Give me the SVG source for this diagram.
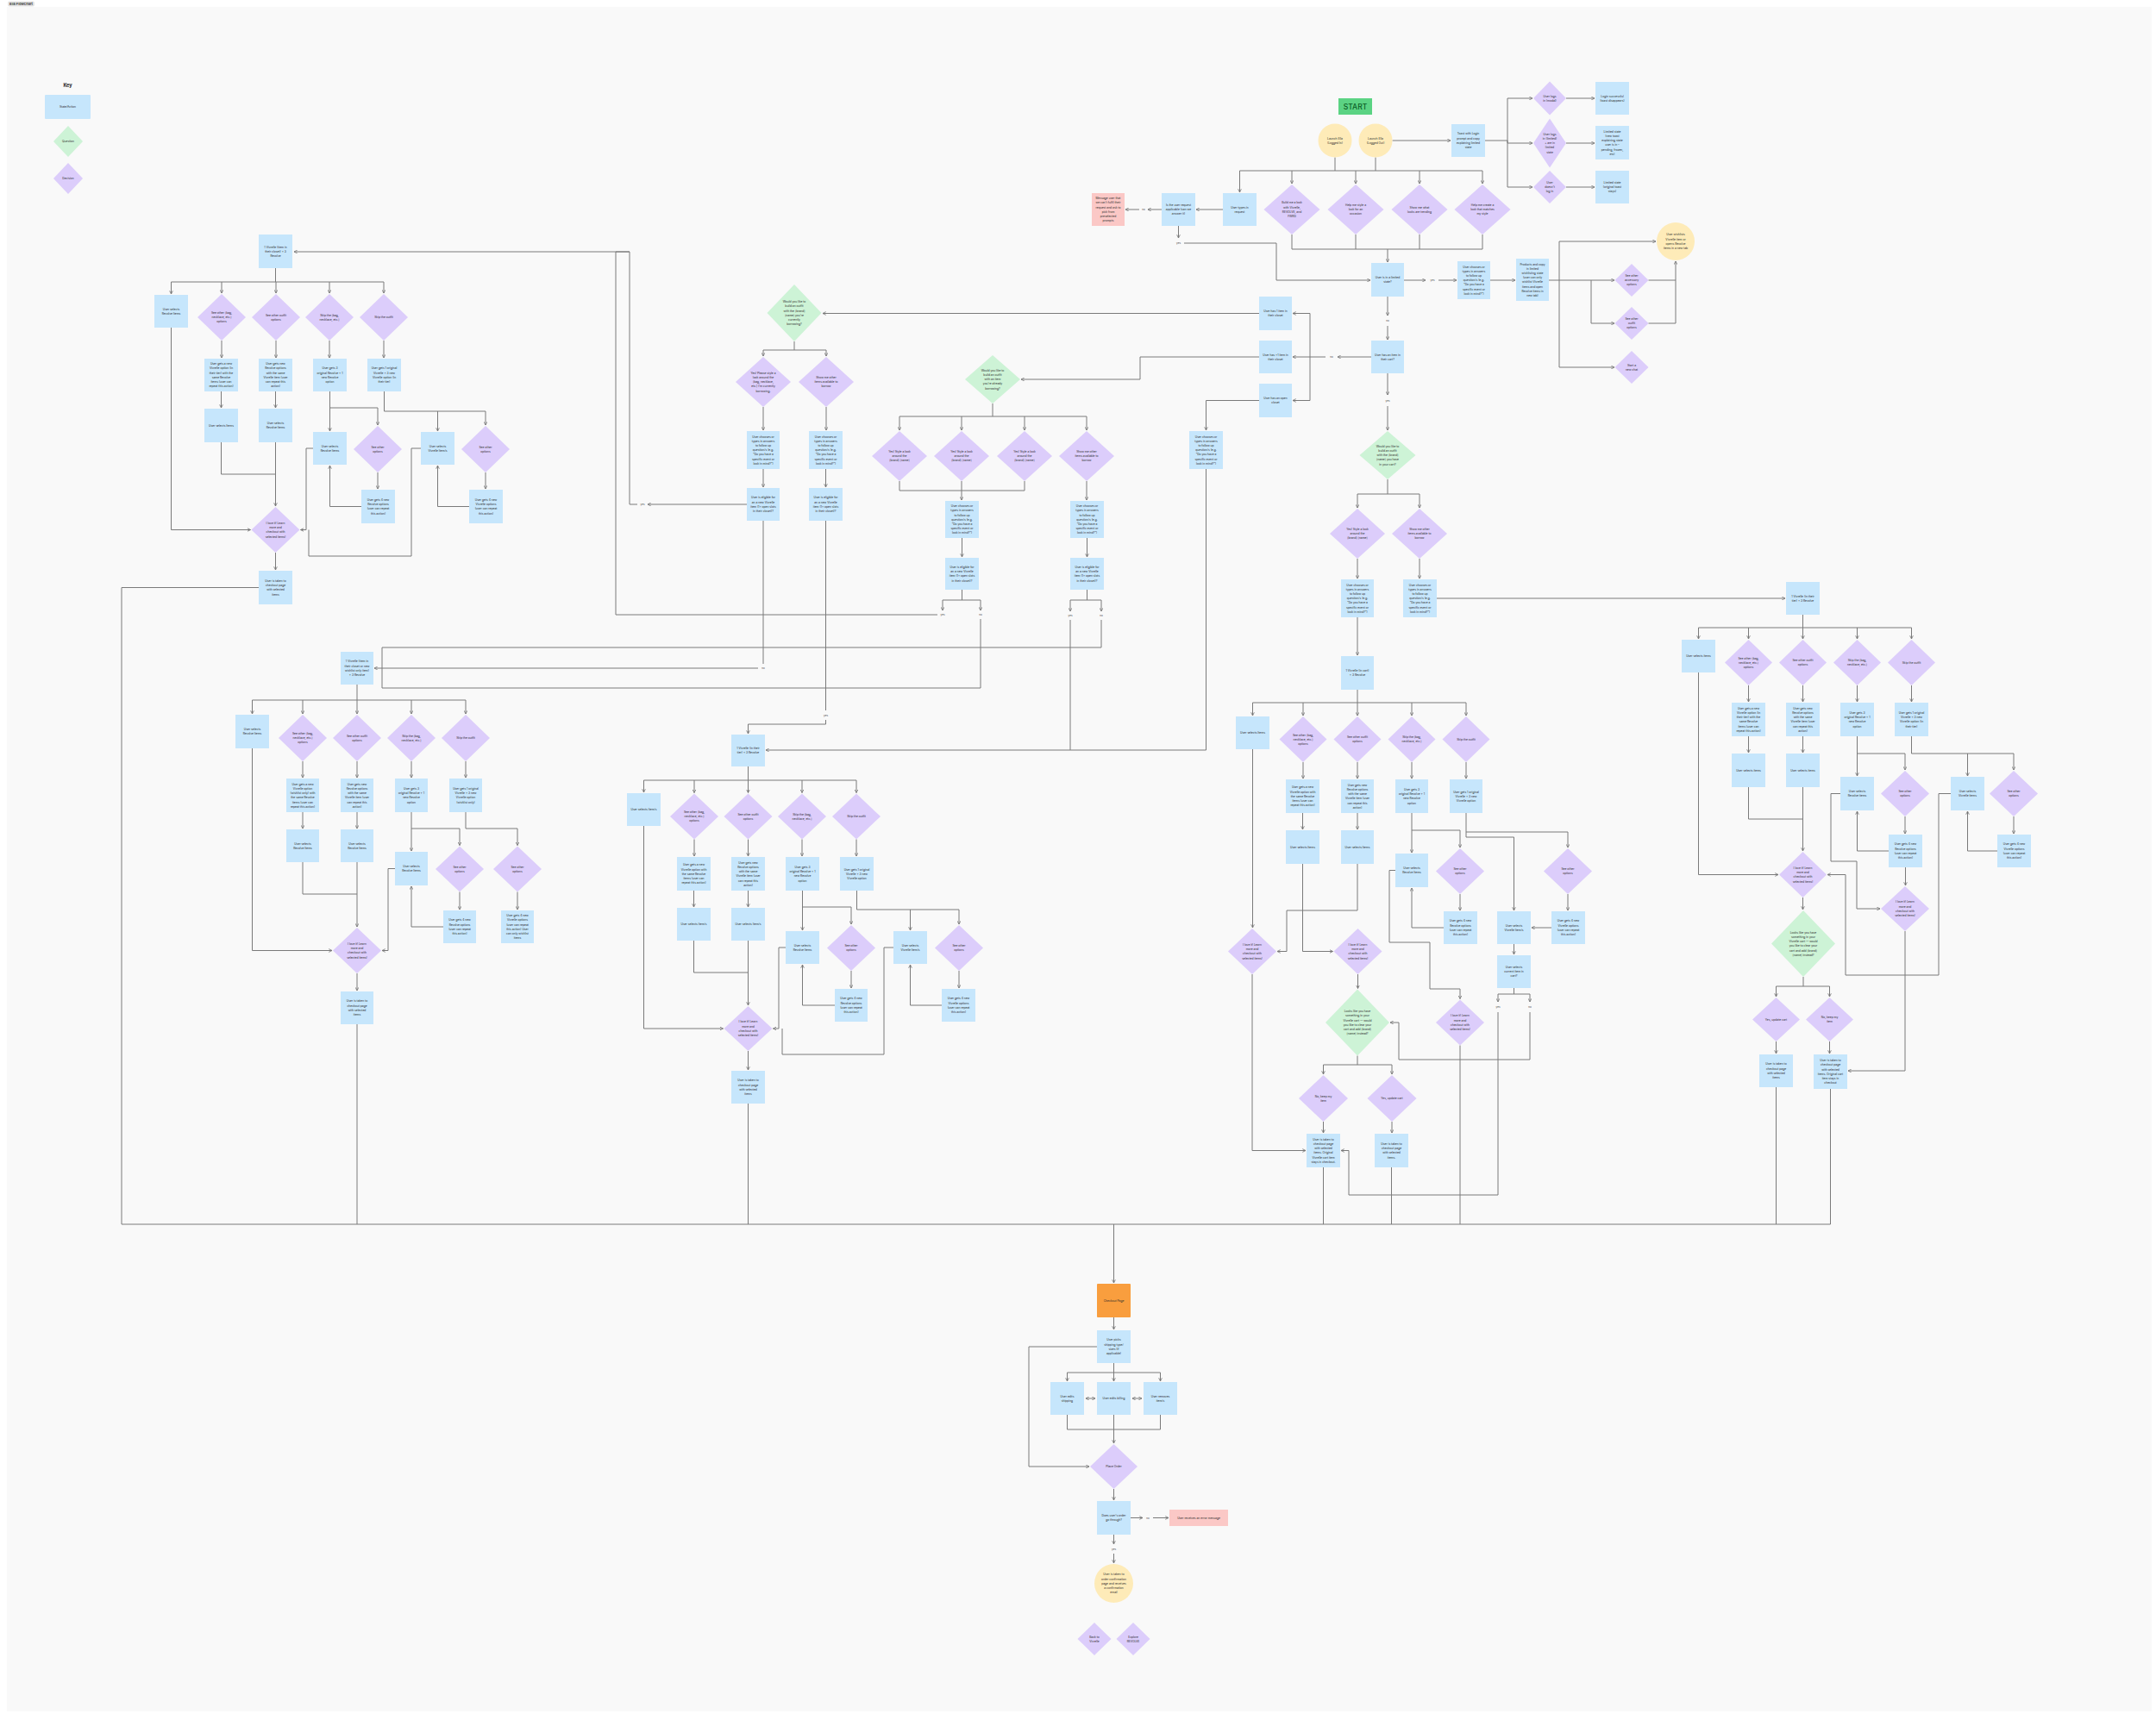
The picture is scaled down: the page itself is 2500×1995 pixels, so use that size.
<svg xmlns="http://www.w3.org/2000/svg" width="2500" height="1995" viewBox="0 0 2500 1995">
<defs>
<marker id="ah" viewBox="0 0 8 8" refX="7" refY="4" markerWidth="4.5" markerHeight="4.5" markerUnits="userSpaceOnUse" orient="auto-start-reverse"><path d="M1,1 L7,4 L1,7" fill="none" stroke="#7a7a7a" stroke-width="1.5" stroke-linecap="round" stroke-linejoin="round"/></marker>
<style>
.b{fill:#c6e6fc}.p{fill:#dccdfb}.g{fill:#cdf3d6}.y{fill:#feebb8}.r{fill:#fbc8c6}.o{fill:#f99e3e}
.t{font-family:Inter,'Liberation Sans',sans-serif;font-size:3.3px;fill:#2b2b2b;text-anchor:middle}
.lb{font-family:Inter,'Liberation Sans',sans-serif;font-size:3px;fill:#444;text-anchor:middle}
#conn path{fill:none;stroke:#7a7a7a;stroke-width:1;stroke-linejoin:round}
#conn path.a{marker-end:url(#ah)}
#conn path.d{marker-start:url(#ah);marker-end:url(#ah)}
</style>
</defs>
<rect x="0" y="0" width="2500" height="1995" fill="#ffffff"/>
<rect x="8" y="8" width="2487" height="1977" fill="#f9f9f9"/>
<g id="title"><rect x="9" y="1.5" width="31" height="6" rx="2" fill="#e3e3e3"/><text x="24.5" y="6" font-family="Inter,'Liberation Sans',sans-serif" font-size="4" font-weight="600" fill="#333" text-anchor="middle">Ella Flowchart</text></g>
<g id="key">
<text x="78.5" y="101" font-family="Inter,'Liberation Sans',sans-serif" font-size="5.5" font-weight="700" fill="#222" text-anchor="middle">Key</text>
<rect class="b" x="52" y="110" width="53" height="28" rx="1"/><text class="t" x="78.5" y="125.2">State/Action</text>
<polygon class="g" points="79,146 96,164 79,182 62,164"/><text class="t" x="79" y="165.2">Question</text>
<polygon class="p" points="79,189 96,207 79,225 62,207"/><text class="t" x="79" y="208.2">Decision</text>
</g>

<g id="conn">
<path class="a" d="M1614.5,163 H1682"/>
<path d="M1722,163 H1748"/>
<path class="a" d="M1748,163 V114 H1777"/>
<path class="a" d="M1748,163 V166 H1777"/>
<path class="a" d="M1748,163 V217 H1777"/>
<path class="a" d="M1816,114 H1849"/>
<path class="a" d="M1816,166 H1849"/>
<path class="a" d="M1816,217 H1849"/>
<path d="M1548,182.5 V198"/>
<path d="M1595,182.5 V198"/>
<path d="M1437.5,198 H1719"/>
<path class="a" d="M1437.5,198 V223"/>
<path class="a" d="M1498,198 V213"/>
<path class="a" d="M1572,198 V213"/>
<path class="a" d="M1646,198 V213"/>
<path class="a" d="M1719,198 V213"/>
<path class="a" d="M1418,243 H1387"/>
<path class="a" d="M1347,243 H1331"/>
<path class="a" d="M1321,243 H1305"/>
<path class="a" d="M1366.5,262 V276"/>
<path class="a" d="M1373,282 H1480 V325 H1589"/>
<path d="M1498,272 V289 H1719 V272"/>
<path d="M1572,272 V289"/>
<path d="M1646,272 V289"/>
<path class="a" d="M1609,289 V304"/>
<path class="a" d="M1628,325 H1653"/>
<path class="a" d="M1668,325 H1689"/>
<path class="a" d="M1728,325 H1757"/>
<path d="M1796,325 H1808"/>
<path class="a" d="M1808,325 V280 H1920"/>
<path class="a" d="M1808,325 H1872"/>
<path class="a" d="M1808,325 V426 H1872"/>
<path class="a" d="M1845,325 V375 H1872"/>
<path class="a" d="M1911.5,325 H1943 V303"/>
<path d="M1911.5,375 H1943 V325"/>
<path class="a" d="M1609,344 V366"/>
<path class="a" d="M1609,378 V394"/>
<path class="a" d="M1590,414 H1551"/>
<path d="M1537,414 H1519"/>
<path d="M1519,363.5 V464.5"/>
<path class="a" d="M1519,363.5 H1499"/>
<path class="a" d="M1519,414 H1499"/>
<path class="a" d="M1519,464.5 H1499"/>
<path class="a" d="M1609,433 V458"/>
<path class="a" d="M1609,471 V499"/>
<path d="M1609,556 V573"/>
<path d="M1574,573 H1646"/>
<path class="a" d="M1574,573 V589"/>
<path class="a" d="M1646,573 V589"/>
<path class="a" d="M1574,648 V671"/>
<path class="a" d="M1646,648 V671"/>
<path class="a" d="M1574,716 V760"/>
<path class="a" d="M1666,694 H2070"/>
<path class="a" d="M1460,363.5 H954"/>
<path class="a" d="M1460,414 H1322 V440 H1184"/>
<path class="a" d="M1460,464.5 H1398.5 V499"/>
<path class="a" d="M1398.5,544 V870 H888"/>
<path d="M921,396 V406"/>
<path d="M885,406 H958"/>
<path class="a" d="M885,406 V413"/>
<path class="a" d="M958,406 V413"/>
<path class="a" d="M885,472 V499"/>
<path class="a" d="M958,472 V499"/>
<path class="a" d="M885,544 V565"/>
<path class="a" d="M957.5,544 V565"/>
<path class="a" d="M866,585 H751"/>
<path class="a" d="M739,585 H730 V292 H341"/>
<path d="M885,604 V770"/>
<path class="a" d="M879,775 H434"/>
<path d="M957.5,604 V824"/>
<path class="a" d="M957.5,835 V840 H867.5 V851"/>
<path d="M1151,468 V483"/>
<path d="M1043,483 H1260"/>
<path class="a" d="M1043,483 V499"/>
<path class="a" d="M1115,483 V499"/>
<path class="a" d="M1188,483 V499"/>
<path class="a" d="M1260,483 V499"/>
<path d="M1043,558 V569 H1188 V558"/>
<path d="M1115,558 V569"/>
<path class="a" d="M1115,569 V580"/>
<path class="a" d="M1260,558 V580"/>
<path class="a" d="M1115.5,624 V646"/>
<path class="a" d="M1260.5,624 V646"/>
<path d="M1115.5,684 V696"/>
<path d="M1093,696 H1137"/>
<path class="a" d="M1093,696 V708"/>
<path class="a" d="M1137,696 V708"/>
<path d="M1260.5,684 V696"/>
<path d="M1241,696 H1277"/>
<path class="a" d="M1241,696 V709"/>
<path class="a" d="M1277,696 V709"/>
<path d="M1087,713 H714 V292 H730"/>
<path d="M1137,718 V798 H443 V775"/>
<path d="M1277,719 V751 H443 V775"/>
<path d="M1241,719 V870"/>
<path d="M319.5,311 V327"/>
<path d="M198.5,327 H445"/>
<path class="a" d="M198.5,327 V341"/>
<path class="a" d="M257,327 V340"/>
<path class="a" d="M320,327 V340"/>
<path class="a" d="M382,327 V340"/>
<path class="a" d="M445,327 V340"/>
<path class="a" d="M257,395 V415"/>
<path class="a" d="M320,395 V415"/>
<path class="a" d="M382,395 V415"/>
<path class="a" d="M445,395 V415"/>
<path class="a" d="M256.5,454 V473"/>
<path class="a" d="M319.5,454 V473"/>
<path class="a" d="M382.5,454 V500"/>
<path class="a" d="M382.5,473 H438 V493"/>
<path class="a" d="M438,548 V567"/>
<path class="a" d="M419,587.5 H382.5 V540"/>
<path d="M445.5,454 V477 H563"/>
<path class="a" d="M563,477 V493"/>
<path class="a" d="M507.5,477 V500"/>
<path class="a" d="M563,548 V567"/>
<path class="a" d="M544,587.5 H507.5 V540"/>
<path class="a" d="M198.5,380 V614.5 H290.5"/>
<path d="M256.5,513 V550 H319.5"/>
<path class="a" d="M319.5,513 V587"/>
<path class="a" d="M363,520 H355 V614.5 H348.5"/>
<path d="M488,520 H477 V645 H358 V614.5"/>
<path class="a" d="M319.5,641 V661"/>
<path d="M300,681.5 H141 V1420"/>
<path d="M414,794 V812"/>
<path d="M292.5,812 H540"/>
<path class="a" d="M292.5,812 V828"/>
<path class="a" d="M351,812 V828"/>
<path class="a" d="M414,812 V828"/>
<path class="a" d="M477,812 V828"/>
<path class="a" d="M540,812 V828"/>
<path class="a" d="M351,883 V902"/>
<path class="a" d="M414,883 V902"/>
<path class="a" d="M477,883 V902"/>
<path class="a" d="M540,883 V902"/>
<path class="a" d="M351,942 V961"/>
<path class="a" d="M414,942 V961"/>
<path class="a" d="M477,942 V987"/>
<path class="a" d="M477,961 H533 V980.5"/>
<path class="a" d="M533,1034.5 V1055"/>
<path class="a" d="M514,1075 H477 V1028"/>
<path d="M540,942 V961 H600"/>
<path class="a" d="M600,961 V980.5"/>
<path class="a" d="M600,1034.5 V1055"/>
<path class="a" d="M292.5,868 V1102.5 H385"/>
<path d="M351,1000 V1037 H414"/>
<path class="a" d="M414,1000 V1075"/>
<path class="a" d="M458,1007.5 H450 V1102.5 H443"/>
<path class="a" d="M414,1129 V1149"/>
<path d="M414,1188 V1420"/>
<path d="M867.5,889 V905"/>
<path d="M746.5,905 H993"/>
<path class="a" d="M746.5,905 V919"/>
<path class="a" d="M805,905 V919.5"/>
<path class="a" d="M867.5,905 V919.5"/>
<path class="a" d="M930,905 V919.5"/>
<path class="a" d="M993,905 V919.5"/>
<path class="a" d="M805,973.5 V993"/>
<path class="a" d="M867.5,973.5 V993"/>
<path class="a" d="M930,973.5 V993"/>
<path class="a" d="M993,973.5 V993"/>
<path class="a" d="M804.5,1033 V1052"/>
<path class="a" d="M867.5,1033 V1052"/>
<path class="a" d="M930.5,1033 V1079"/>
<path class="a" d="M930.5,1052 H987 V1072"/>
<path class="a" d="M987,1126 V1146"/>
<path class="a" d="M968,1166 H930.5 V1119"/>
<path d="M993.5,1033 V1055 H1112"/>
<path class="a" d="M1112,1055 V1072"/>
<path class="a" d="M1055.5,1055 V1079"/>
<path class="a" d="M1112,1126 V1146"/>
<path class="a" d="M1092,1166 H1055.5 V1119"/>
<path class="a" d="M746.5,958 V1193 H838.5"/>
<path d="M804.5,1091 V1128 H867.5"/>
<path class="a" d="M867.5,1091 V1166"/>
<path class="a" d="M911,1099 H903 V1193 H896.5"/>
<path d="M1036,1099 H1025 V1223 H907 V1193"/>
<path class="a" d="M867.5,1219 V1241"/>
<path d="M867.5,1280 V1420"/>
<path d="M1574,800 V815"/>
<path d="M1452.5,815 H1700"/>
<path class="a" d="M1452.5,815 V830"/>
<path class="a" d="M1511,815 V830"/>
<path class="a" d="M1574,815 V830"/>
<path class="a" d="M1637,815 V830"/>
<path class="a" d="M1700,815 V830"/>
<path class="a" d="M1511,884 V903"/>
<path class="a" d="M1574,884 V903"/>
<path class="a" d="M1637,884 V903"/>
<path class="a" d="M1700,884 V903"/>
<path class="a" d="M1510.5,943 V962"/>
<path class="a" d="M1574,943 V962"/>
<path class="a" d="M1637,943 V989"/>
<path class="a" d="M1637,963 H1693 V983"/>
<path class="a" d="M1693,1037 V1056"/>
<path class="a" d="M1674,1076 H1637 V1030"/>
<path d="M1700,943 V965 H1818"/>
<path class="a" d="M1818,965 V983"/>
<path class="a" d="M1700,965 V971 H1755.5 V1056"/>
<path class="a" d="M1818,1037 V1056"/>
<path class="a" d="M1799,1076 H1776"/>
<path class="a" d="M1755.5,1095 V1107"/>
<path d="M1755.5,1146 V1153"/>
<path d="M1737,1153 H1774"/>
<path class="a" d="M1737,1153 V1162"/>
<path class="a" d="M1774,1153 V1162"/>
<path class="a" d="M1774,1174 V1229 H1622 V1186 H1612"/>
<path class="a" d="M1737,1174 V1386 H1564 V1334.5 H1555"/>
<path class="a" d="M1452.5,869 V1076"/>
<path class="a" d="M1574,1002 V1056 H1492 V1103.5 H1481"/>
<path class="a" d="M1510.5,1002 V1103.5 H1545.5"/>
<path class="a" d="M1574.5,1130 V1146.5"/>
<path d="M1574,1224.5 V1235"/>
<path d="M1534.5,1235 H1614"/>
<path class="a" d="M1534.5,1235 V1246"/>
<path class="a" d="M1614,1235 V1246"/>
<path class="a" d="M1534.5,1301 V1314"/>
<path class="a" d="M1614,1301 V1314"/>
<path class="a" d="M1452,1130 V1334.5 H1514"/>
<path d="M1534.5,1354 V1420"/>
<path d="M1613.5,1354 V1420"/>
<path class="a" d="M1618,1009.5 H1611 V1093 H1658 V1147 H1693 V1158.5"/>
<path d="M1693,1212.5 V1420"/>
<path d="M2090.5,713 V728"/>
<path d="M1969.5,728 H2216.5"/>
<path class="a" d="M1969.5,728 V741"/>
<path class="a" d="M2027.5,728 V741"/>
<path class="a" d="M2090.5,728 V741"/>
<path class="a" d="M2153.5,728 V741"/>
<path class="a" d="M2216.5,728 V741"/>
<path class="a" d="M2027.5,795 V814"/>
<path class="a" d="M2090.5,795 V814"/>
<path class="a" d="M2153.5,795 V814"/>
<path class="a" d="M2216.5,795 V814"/>
<path class="a" d="M2027.5,854 V873"/>
<path class="a" d="M2090.5,854 V873"/>
<path class="a" d="M2153.5,854 V900"/>
<path class="a" d="M2153.5,874 H2209 V893"/>
<path class="a" d="M2209,947 V967"/>
<path class="a" d="M2190,987 H2153.5 V941"/>
<path class="a" d="M2134,920.5 H2123 V999 H2153 V1054 H2180"/>
<path class="a" d="M2209.5,1006 V1027"/>
<path class="a" d="M2209,1080 V1242 H2143"/>
<path class="a" d="M1969.5,780 V1014.5 H2062"/>
<path d="M2027.5,913 V950 H2090.5"/>
<path class="a" d="M2090.5,913 V987"/>
<path class="a" d="M2262,920.5 H2248 V1131 H2140 V1014.5 H2119"/>
<path class="a" d="M2090.5,1041 V1055"/>
<path d="M2091,1133 V1144"/>
<path d="M2059.5,1144 H2121.5"/>
<path class="a" d="M2059.5,1144 V1156"/>
<path class="a" d="M2121.5,1144 V1156"/>
<path class="a" d="M2059.5,1208 V1222"/>
<path class="a" d="M2121.5,1208 V1222"/>
<path d="M2059.5,1261 V1420"/>
<path d="M2122.5,1263 V1420"/>
<path d="M2216.5,854 V874 H2335"/>
<path class="a" d="M2335,874 V893"/>
<path class="a" d="M2281.5,874 V900"/>
<path class="a" d="M2335,947 V967"/>
<path class="a" d="M2316,987 H2281.5 V941"/>
<path d="M141,1420 H2122.5"/>
<path class="a" d="M1291.5,1420 V1488"/>
<path class="a" d="M1291.5,1528 V1542"/>
<path d="M1291.5,1581 V1592"/>
<path d="M1237.5,1592 H1345.5"/>
<path class="a" d="M1237.5,1592 V1602"/>
<path class="a" d="M1291.5,1592 V1602"/>
<path class="a" d="M1345.5,1592 V1602"/>
<path class="d" d="M1259,1622 H1270"/>
<path class="d" d="M1313,1622 H1324"/>
<path d="M1237.5,1641 V1658 H1345.5 V1641"/>
<path class="a" d="M1291.5,1641 V1674"/>
<path class="a" d="M1272,1562 H1193 V1701 H1263"/>
<path class="a" d="M1291.5,1727 V1740"/>
<path class="a" d="M1311,1760.5 H1325"/>
<path class="a" d="M1337,1760.5 H1355"/>
<path class="a" d="M1291.5,1780 V1791"/>
<path class="a" d="M1291.5,1802 V1813"/>
</g>

<g id="labels">
<text class="lb" x="1326" y="244.1">no</text>
<text class="lb" x="1366.5" y="283.1">yes</text>
<text class="lb" x="1661" y="326.1">yes</text>
<text class="lb" x="1609" y="373.1">no</text>
<text class="lb" x="1544" y="415.1">no</text>
<text class="lb" x="1609" y="466.1">yes</text>
<text class="lb" x="745" y="586.1">yes</text>
<text class="lb" x="885" y="776.1">no</text>
<text class="lb" x="957.5" y="830.6">yes</text>
<text class="lb" x="1093" y="714.1">yes</text>
<text class="lb" x="1137" y="714.1">no</text>
<text class="lb" x="1241" y="715.1">yes</text>
<text class="lb" x="1277" y="715.1">no</text>
<text class="lb" x="1737" y="1169.1">yes</text>
<text class="lb" x="1774" y="1169.1">no</text>
<text class="lb" x="1331" y="1761.6">no</text>
<text class="lb" x="1291.5" y="1798.1">yes</text>
</g>

<g id="n-start"><rect x="1552" y="114" width="39" height="19" fill="#5bd383"/><text x="1571.5" y="126.7" font-family="Inter,'Liberation Sans',sans-serif" font-size="8.5" font-weight="500" fill="#0b5e26" text-anchor="middle">START</text></g>
<g id="n-launch-in"><circle class="y" cx="1548" cy="163" r="19.5"/><text class="t" x="1548" y="161.6">Launch Ella<tspan x="1548" dy="5.2">(Logged In)</tspan></text></g>
<g id="n-launch-out"><circle class="y" cx="1595" cy="163" r="19.5"/><text class="t" x="1595" y="161.6">Launch Ella<tspan x="1595" dy="5.2">(Logged Out)</tspan></text></g>
<g id="n-toast"><rect class="b" x="1683" y="144" width="39" height="38"/><text class="t" x="1702.5" y="156.4">Toast with Login<tspan x="1702.5" dy="5.2">prompt and copy</tspan><tspan x="1702.5" dy="5.2">explaining limited</tspan><tspan x="1702.5" dy="5.2">state</tspan></text></g>
<g id="n-modal"><polygon class="p" points="1797,94.5 1816,114 1797,133.5 1778,114"/><text class="t" x="1797" y="112.6">User logs<tspan x="1797" dy="5.2">in (modal)</tspan></text></g>
<g id="n-loglimited"><polygon class="p" points="1797,137.5 1816,166 1797,194.5 1778,166"/><text class="t" x="1797" y="156.8">User logs<tspan x="1797" dy="5.2">in (limited)</tspan><tspan x="1797" dy="5.2">+ are in</tspan><tspan x="1797" dy="5.2">limited</tspan><tspan x="1797" dy="5.2">state</tspan></text></g>
<g id="n-nolog"><polygon class="p" points="1797,198 1816,217 1797,236 1778,217"/><text class="t" x="1797" y="213">User<tspan x="1797" dy="5.2">doesn't</tspan><tspan x="1797" dy="5.2">log in</tspan></text></g>
<g id="n-success"><rect class="b" x="1850" y="95" width="39" height="38"/><text class="t" x="1869.5" y="112.6">Login successful<tspan x="1869.5" dy="5.2">(toast disappears)</tspan></text></g>
<g id="n-newtoast"><rect class="b" x="1850" y="146" width="39" height="39"/><text class="t" x="1869.5" y="153.7">Limited state<tspan x="1869.5" dy="5.2">(new toast</tspan><tspan x="1869.5" dy="5.2">explaining state</tspan><tspan x="1869.5" dy="5.2">user is in –</tspan><tspan x="1869.5" dy="5.2">pending, frozen,</tspan><tspan x="1869.5" dy="5.2">etc)</tspan></text></g>
<g id="n-origtoast"><rect class="b" x="1850" y="198" width="39" height="38"/><text class="t" x="1869.5" y="213">Limited state<tspan x="1869.5" dy="5.2">(original toast</tspan><tspan x="1869.5" dy="5.2">stays)</tspan></text></g>
<g id="n-types"><rect class="b" x="1418" y="224" width="39" height="38"/><text class="t" x="1437.5" y="241.6">User types in<tspan x="1437.5" dy="5.2">request</tspan></text></g>
<g id="n-build"><polygon class="p" points="1498,214 1530.5,243 1498,272 1465.5,243"/><text class="t" x="1498" y="236.4">Build me a look<tspan x="1498" dy="5.2">with Vivrelle,</tspan><tspan x="1498" dy="5.2">REVOLVE, and</tspan><tspan x="1498" dy="5.2">FWRD</tspan></text></g>
<g id="n-occasion"><polygon class="p" points="1572,214 1604.5,243 1572,272 1539.5,243"/><text class="t" x="1572" y="239">Help me style a<tspan x="1572" dy="5.2">look for an</tspan><tspan x="1572" dy="5.2">occasion</tspan></text></g>
<g id="n-trending"><polygon class="p" points="1646,214 1678.5,243 1646,272 1613.5,243"/><text class="t" x="1646" y="241.6">Show me what<tspan x="1646" dy="5.2">looks are trending</tspan></text></g>
<g id="n-mystyle"><polygon class="p" points="1719,214 1751.5,243 1719,272 1686.5,243"/><text class="t" x="1719" y="239">Help me create a<tspan x="1719" dy="5.2">look that matches</tspan><tspan x="1719" dy="5.2">my style</tspan></text></g>
<g id="n-applicable"><rect class="b" x="1347" y="224" width="39" height="38"/><text class="t" x="1366.5" y="239">Is the user request<tspan x="1366.5" dy="5.2">applicable (can we</tspan><tspan x="1366.5" dy="5.2">answer it)</tspan></text></g>
<g id="n-message"><rect class="r" x="1266" y="224" width="38" height="38"/><text class="t" x="1285" y="231.2">Message user that<tspan x="1285" dy="5.2">we can't fulfil their</tspan><tspan x="1285" dy="5.2">request and ask to</tspan><tspan x="1285" dy="5.2">pick from</tspan><tspan x="1285" dy="5.2">preselected</tspan><tspan x="1285" dy="5.2">prompts</tspan></text></g>
<g id="n-limited"><rect class="b" x="1590" y="305" width="38" height="39"/><text class="t" x="1609" y="323.1">User is in a limited<tspan x="1609" dy="5.2">state?</tspan></text></g>
<g id="n-chooses-top"><rect class="b" x="1690" y="303" width="38" height="44"/><text class="t" x="1709" y="310.6">User chooses or<tspan x="1709" dy="5.2">types in answers</tspan><tspan x="1709" dy="5.2">to follow up</tspan><tspan x="1709" dy="5.2">question/s (e.g.</tspan><tspan x="1709" dy="5.2">"Do you have a</tspan><tspan x="1709" dy="5.2">specific event or</tspan><tspan x="1709" dy="5.2">look in mind?")</tspan></text></g>
<g id="n-products"><rect class="b" x="1758" y="300" width="38" height="49"/><text class="t" x="1777" y="307.5">Products and copy<tspan x="1777" dy="5.2">in limited</tspan><tspan x="1777" dy="5.2">wishlisting state</tspan><tspan x="1777" dy="5.2">(user can only</tspan><tspan x="1777" dy="5.2">wishlist Vivrelle</tspan><tspan x="1777" dy="5.2">items and open</tspan><tspan x="1777" dy="5.2">Revolve items in</tspan><tspan x="1777" dy="5.2">new tab)</tspan></text></g>
<g id="n-wishlists"><circle class="y" cx="1943" cy="280" r="22"/><text class="t" x="1943" y="273.4">User wishlists<tspan x="1943" dy="5.2">Vivrelle item or</tspan><tspan x="1943" dy="5.2">opens Revolve</tspan><tspan x="1943" dy="5.2">items in a new tab</tspan></text></g>
<g id="n-acc"><polygon class="p" points="1892,306 1911.5,325 1892,344 1872.5,325"/><text class="t" x="1892" y="321">See other<tspan x="1892" dy="5.2">accessory</tspan><tspan x="1892" dy="5.2">options</tspan></text></g>
<g id="n-outfitopt"><polygon class="p" points="1892,356 1911.5,375 1892,394 1872.5,375"/><text class="t" x="1892" y="371">See other<tspan x="1892" dy="5.2">outfit</tspan><tspan x="1892" dy="5.2">options</tspan></text></g>
<g id="n-newchat"><polygon class="p" points="1892,407 1911.5,426 1892,445 1872.5,426"/><text class="t" x="1892" y="424.6">Start a<tspan x="1892" dy="5.2">new chat</tspan></text></g>
<g id="n-cart"><rect class="b" x="1590" y="395" width="38" height="38"/><text class="t" x="1609" y="412.6">User has an item in<tspan x="1609" dy="5.2">their cart?</tspan></text></g>
<g id="n-1item"><rect class="b" x="1460" y="344" width="38" height="39"/><text class="t" x="1479" y="362.1">User has 1 item in<tspan x="1479" dy="5.2">their closet</tspan></text></g>
<g id="n-plus1"><rect class="b" x="1460" y="395" width="38" height="38"/><text class="t" x="1479" y="412.6">User has +1 item in<tspan x="1479" dy="5.2">their closet</tspan></text></g>
<g id="n-open"><rect class="b" x="1460" y="445" width="38" height="39"/><text class="t" x="1479" y="463.1">User has an open<tspan x="1479" dy="5.2">closet</tspan></text></g>
<g id="n-cartq"><polygon class="g" points="1609,500 1641.5,528 1609,556 1576.5,528"/><text class="t" x="1609" y="518.8">Would you like to<tspan x="1609" dy="5.2">build an outfit</tspan><tspan x="1609" dy="5.2">with the [brand]</tspan><tspan x="1609" dy="5.2">[name] you have</tspan><tspan x="1609" dy="5.2">in your cart?</tspan></text></g>
<g id="n-yescart"><polygon class="p" points="1574,590 1606,619 1574,648 1542,619"/><text class="t" x="1574" y="615">Yes! Style a look<tspan x="1574" dy="5.2">around the</tspan><tspan x="1574" dy="5.2">[brand] [name]</tspan></text></g>
<g id="n-showcart"><polygon class="p" points="1646,590 1678,619 1646,648 1614,619"/><text class="t" x="1646" y="615">Show me other<tspan x="1646" dy="5.2">items available to</tspan><tspan x="1646" dy="5.2">borrow</tspan></text></g>
<g id="n-chcart1"><rect class="b" x="1555" y="672" width="38" height="44"/><text class="t" x="1574" y="679.6">User chooses or<tspan x="1574" dy="5.2">types in answers</tspan><tspan x="1574" dy="5.2">to follow up</tspan><tspan x="1574" dy="5.2">question/s (e.g.</tspan><tspan x="1574" dy="5.2">"Do you have a</tspan><tspan x="1574" dy="5.2">specific event or</tspan><tspan x="1574" dy="5.2">look in mind?")</tspan></text></g>
<g id="n-chcart2"><rect class="b" x="1627" y="672" width="39" height="44"/><text class="t" x="1646.5" y="679.6">User chooses or<tspan x="1646.5" dy="5.2">types in answers</tspan><tspan x="1646.5" dy="5.2">to follow up</tspan><tspan x="1646.5" dy="5.2">question/s (e.g.</tspan><tspan x="1646.5" dy="5.2">"Do you have a</tspan><tspan x="1646.5" dy="5.2">specific event or</tspan><tspan x="1646.5" dy="5.2">look in mind?")</tspan></text></g>
<g id="n-chopen"><rect class="b" x="1379" y="500" width="39" height="44"/><text class="t" x="1398.5" y="507.6">User chooses or<tspan x="1398.5" dy="5.2">types in answers</tspan><tspan x="1398.5" dy="5.2">to follow up</tspan><tspan x="1398.5" dy="5.2">question/s (e.g.</tspan><tspan x="1398.5" dy="5.2">"Do you have a</tspan><tspan x="1398.5" dy="5.2">specific event or</tspan><tspan x="1398.5" dy="5.2">look in mind?")</tspan></text></g>

<g id="n-borrowq"><polygon class="g" points="921,330 952.5,363 921,396 889.5,363"/><text class="t" x="921" y="351.2">Would you like to<tspan x="921" dy="5.2">build an outfit</tspan><tspan x="921" dy="5.2">with the [brand]</tspan><tspan x="921" dy="5.2">[name] you're</tspan><tspan x="921" dy="5.2">currently</tspan><tspan x="921" dy="5.2">borrowing?</tspan></text></g>
<g id="n-yesborrow"><polygon class="p" points="885,414 917,443 885,472 853,443"/><text class="t" x="885" y="433.8">Yes! Please style a<tspan x="885" dy="5.2">look around the</tspan><tspan x="885" dy="5.2">[bag, necklace,</tspan><tspan x="885" dy="5.2">etc.] I'm currently</tspan><tspan x="885" dy="5.2">borrowing.</tspan></text></g>
<g id="n-showborrow"><polygon class="p" points="958,414 990,443 958,472 926,443"/><text class="t" x="958" y="439">Show me other<tspan x="958" dy="5.2">items available to</tspan><tspan x="958" dy="5.2">borrow</tspan></text></g>
<g id="n-chb1"><rect class="b" x="866" y="500" width="38" height="44"/><text class="t" x="885" y="507.6">User chooses or<tspan x="885" dy="5.2">types in answers</tspan><tspan x="885" dy="5.2">to follow up</tspan><tspan x="885" dy="5.2">question/s (e.g.</tspan><tspan x="885" dy="5.2">"Do you have a</tspan><tspan x="885" dy="5.2">specific event or</tspan><tspan x="885" dy="5.2">look in mind?")</tspan></text></g>
<g id="n-chb2"><rect class="b" x="938" y="500" width="39" height="44"/><text class="t" x="957.5" y="507.6">User chooses or<tspan x="957.5" dy="5.2">types in answers</tspan><tspan x="957.5" dy="5.2">to follow up</tspan><tspan x="957.5" dy="5.2">question/s (e.g.</tspan><tspan x="957.5" dy="5.2">"Do you have a</tspan><tspan x="957.5" dy="5.2">specific event or</tspan><tspan x="957.5" dy="5.2">look in mind?")</tspan></text></g>
<g id="n-elig1"><rect class="b" x="866" y="566" width="38" height="38"/><text class="t" x="885" y="578.4">User is eligible for<tspan x="885" dy="5.2">an a new Vivrelle</tspan><tspan x="885" dy="5.2">item (1+ open slots</tspan><tspan x="885" dy="5.2">in their closet)?</tspan></text></g>
<g id="n-elig2"><rect class="b" x="938" y="566" width="39" height="38"/><text class="t" x="957.5" y="578.4">User is eligible for<tspan x="957.5" dy="5.2">an a new Vivrelle</tspan><tspan x="957.5" dy="5.2">item (1+ open slots</tspan><tspan x="957.5" dy="5.2">in their closet)?</tspan></text></g>
<g id="n-alreadyq"><polygon class="g" points="1151,412 1183,440 1151,468 1119,440"/><text class="t" x="1151" y="430.8">Would you like to<tspan x="1151" dy="5.2">build an outfit</tspan><tspan x="1151" dy="5.2">with an item</tspan><tspan x="1151" dy="5.2">you're already</tspan><tspan x="1151" dy="5.2">borrowing?</tspan></text></g>
<g id="n-style1"><polygon class="p" points="1043,500 1075,529 1043,558 1011,529"/><text class="t" x="1043" y="525">Yes! Style a look<tspan x="1043" dy="5.2">around the</tspan><tspan x="1043" dy="5.2">[brand] [name]</tspan></text></g>
<g id="n-style2"><polygon class="p" points="1115,500 1147,529 1115,558 1083,529"/><text class="t" x="1115" y="525">Yes! Style a look<tspan x="1115" dy="5.2">around the</tspan><tspan x="1115" dy="5.2">[brand] [name]</tspan></text></g>
<g id="n-style3"><polygon class="p" points="1188,500 1220,529 1188,558 1156,529"/><text class="t" x="1188" y="525">Yes! Style a look<tspan x="1188" dy="5.2">around the</tspan><tspan x="1188" dy="5.2">[brand] [name]</tspan></text></g>
<g id="n-showalready"><polygon class="p" points="1260,500 1292,529 1260,558 1228,529"/><text class="t" x="1260" y="525">Show me other<tspan x="1260" dy="5.2">items available to</tspan><tspan x="1260" dy="5.2">borrow</tspan></text></g>
<g id="n-cha1"><rect class="b" x="1096" y="581" width="39" height="43"/><text class="t" x="1115.5" y="588.1">User chooses or<tspan x="1115.5" dy="5.2">types in answers</tspan><tspan x="1115.5" dy="5.2">to follow up</tspan><tspan x="1115.5" dy="5.2">question/s (e.g.</tspan><tspan x="1115.5" dy="5.2">"Do you have a</tspan><tspan x="1115.5" dy="5.2">specific event or</tspan><tspan x="1115.5" dy="5.2">look in mind?")</tspan></text></g>
<g id="n-cha2"><rect class="b" x="1241" y="581" width="39" height="43"/><text class="t" x="1260.5" y="588.1">User chooses or<tspan x="1260.5" dy="5.2">types in answers</tspan><tspan x="1260.5" dy="5.2">to follow up</tspan><tspan x="1260.5" dy="5.2">question/s (e.g.</tspan><tspan x="1260.5" dy="5.2">"Do you have a</tspan><tspan x="1260.5" dy="5.2">specific event or</tspan><tspan x="1260.5" dy="5.2">look in mind?")</tspan></text></g>
<g id="n-elig3"><rect class="b" x="1096" y="647" width="39" height="37"/><text class="t" x="1115.5" y="658.9">User is eligible for<tspan x="1115.5" dy="5.2">an a new Vivrelle</tspan><tspan x="1115.5" dy="5.2">item (1+ open slots</tspan><tspan x="1115.5" dy="5.2">in their closet)?</tspan></text></g>
<g id="n-elig4"><rect class="b" x="1241" y="647" width="39" height="37"/><text class="t" x="1260.5" y="658.9">User is eligible for<tspan x="1260.5" dy="5.2">an a new Vivrelle</tspan><tspan x="1260.5" dy="5.2">item (1+ open slots</tspan><tspan x="1260.5" dy="5.2">in their closet)?</tspan></text></g>

<g id="n-a0"><rect class="b" x="300" y="272" width="39" height="39"/><text class="t" x="319.5" y="287.5">1 Vivrelle (item in<tspan x="319.5" dy="5.2">their closet) + 3</tspan><tspan x="319.5" dy="5.2">Revolve</tspan></text></g>
<g id="n-a-sel"><rect class="b" x="179" y="342" width="39" height="38"/><text class="t" x="198.5" y="359.6">User selects<tspan x="198.5" dy="5.2">Revolve Items</tspan></text></g>
<g id="n-a-d1"><polygon class="p" points="257,341 285,368 257,395 229,368"/><text class="t" x="257" y="364">See other [bag,<tspan x="257" dy="5.2">necklace, etc.]</tspan><tspan x="257" dy="5.2">options</tspan></text></g>
<g id="n-a-d2"><polygon class="p" points="320,341 348,368 320,395 292,368"/><text class="t" x="320" y="366.6">See other outfit<tspan x="320" dy="5.2">options</tspan></text></g>
<g id="n-a-d3"><polygon class="p" points="382,341 410,368 382,395 354,368"/><text class="t" x="382" y="366.6">Skip the [bag,<tspan x="382" dy="5.2">necklace, etc.]</tspan></text></g>
<g id="n-a-d4"><polygon class="p" points="445,341 473,368 445,395 417,368"/><text class="t" x="445" y="369.2">Skip the outfit</text></g>
<g id="n-a-r1"><rect class="b" x="237" y="416" width="39" height="38"/><text class="t" x="256.5" y="423.2">User gets a new<tspan x="256.5" dy="5.2">Vivrelle option (in</tspan><tspan x="256.5" dy="5.2">their tier) with the</tspan><tspan x="256.5" dy="5.2">same Revolve</tspan><tspan x="256.5" dy="5.2">items (user can</tspan><tspan x="256.5" dy="5.2">repeat this action)</tspan></text></g>
<g id="n-a-r2"><rect class="b" x="300" y="416" width="39" height="38"/><text class="t" x="319.5" y="423.2">User gets new<tspan x="319.5" dy="5.2">Revolve options</tspan><tspan x="319.5" dy="5.2">with the same</tspan><tspan x="319.5" dy="5.2">Vivrelle item (user</tspan><tspan x="319.5" dy="5.2">can repeat this</tspan><tspan x="319.5" dy="5.2">action)</tspan></text></g>
<g id="n-a-r3"><rect class="b" x="363" y="416" width="39" height="38"/><text class="t" x="382.5" y="428.4">User gets 3<tspan x="382.5" dy="5.2">original Revolve + 1</tspan><tspan x="382.5" dy="5.2">new Revolve</tspan><tspan x="382.5" dy="5.2">option</tspan></text></g>
<g id="n-a-r4"><rect class="b" x="426" y="416" width="39" height="38"/><text class="t" x="445.5" y="428.4">User gets 1 original<tspan x="445.5" dy="5.2">Vivrelle + 3 new</tspan><tspan x="445.5" dy="5.2">Vivrelle option (in</tspan><tspan x="445.5" dy="5.2">their tier)</tspan></text></g>
<g id="n-a-s1"><rect class="b" x="237" y="474" width="39" height="39"/><text class="t" x="256.5" y="494.7">User selects Items</text></g>
<g id="n-a-s2"><rect class="b" x="300" y="474" width="39" height="39"/><text class="t" x="319.5" y="492.1">User selects<tspan x="319.5" dy="5.2">Revolve Items</tspan></text></g>
<g id="n-a-rev"><rect class="b" x="363" y="501" width="39" height="38"/><text class="t" x="382.5" y="518.6">User selects<tspan x="382.5" dy="5.2">Revolve Items</tspan></text></g>
<g id="n-a-see1"><polygon class="p" points="438,494 466,521 438,548 410,521"/><text class="t" x="438" y="519.6">See other<tspan x="438" dy="5.2">options</tspan></text></g>
<g id="n-a-4rev"><rect class="b" x="419" y="568" width="39" height="39"/><text class="t" x="438.5" y="580.9">User gets 4 new<tspan x="438.5" dy="5.2">Revolve options</tspan><tspan x="438.5" dy="5.2">(user can repeat</tspan><tspan x="438.5" dy="5.2">this action)</tspan></text></g>
<g id="n-a-viv"><rect class="b" x="488" y="501" width="39" height="38"/><text class="t" x="507.5" y="518.6">User selects<tspan x="507.5" dy="5.2">Vivrelle Item/s</tspan></text></g>
<g id="n-a-see2"><polygon class="p" points="563,494 591,521 563,548 535,521"/><text class="t" x="563" y="519.6">See other<tspan x="563" dy="5.2">options</tspan></text></g>
<g id="n-a-4viv"><rect class="b" x="544" y="568" width="39" height="39"/><text class="t" x="563.5" y="580.9">User gets 4 new<tspan x="563.5" dy="5.2">Vivrelle options</tspan><tspan x="563.5" dy="5.2">(user can repeat</tspan><tspan x="563.5" dy="5.2">this action)</tspan></text></g>
<g id="n-a-love"><polygon class="p" points="319.5,588 347.5,614.5 319.5,641 291.5,614.5"/><text class="t" x="319.5" y="607.9">I love it! Learn<tspan x="319.5" dy="5.2">more and</tspan><tspan x="319.5" dy="5.2">checkout with</tspan><tspan x="319.5" dy="5.2">selected items!</tspan></text></g>
<g id="n-a-co"><rect class="b" x="300" y="662" width="39" height="39"/><text class="t" x="319.5" y="674.9">User is taken to<tspan x="319.5" dy="5.2">checkout page</tspan><tspan x="319.5" dy="5.2">with selected</tspan><tspan x="319.5" dy="5.2">items</tspan></text></g>

<g id="n-b0"><rect class="b" x="395" y="756" width="38" height="38"/><text class="t" x="414" y="768.4">1 Vivrelle (item in<tspan x="414" dy="5.2">their closet or new</tspan><tspan x="414" dy="5.2">wishlist only item)</tspan><tspan x="414" dy="5.2">+ 3 Revolve</tspan></text></g>
<g id="n-b-sel"><rect class="b" x="273" y="829" width="39" height="39"/><text class="t" x="292.5" y="847.1">User selects<tspan x="292.5" dy="5.2">Revolve Items</tspan></text></g>
<g id="n-b-d1"><polygon class="p" points="351,829 379,856 351,883 323,856"/><text class="t" x="351" y="852">See other [bag,<tspan x="351" dy="5.2">necklace, etc.]</tspan><tspan x="351" dy="5.2">options</tspan></text></g>
<g id="n-b-d2"><polygon class="p" points="414,829 442,856 414,883 386,856"/><text class="t" x="414" y="854.6">See other outfit<tspan x="414" dy="5.2">options</tspan></text></g>
<g id="n-b-d3"><polygon class="p" points="477,829 505,856 477,883 449,856"/><text class="t" x="477" y="854.6">Skip the [bag,<tspan x="477" dy="5.2">necklace, etc.]</tspan></text></g>
<g id="n-b-d4"><polygon class="p" points="540,829 568,856 540,883 512,856"/><text class="t" x="540" y="857.2">Skip the outfit</text></g>
<g id="n-b-r1"><rect class="b" x="332" y="903" width="38" height="39"/><text class="t" x="351" y="910.7">User gets a new<tspan x="351" dy="5.2">Vivrelle option</tspan><tspan x="351" dy="5.2">(wishlist only) with</tspan><tspan x="351" dy="5.2">the same Revolve</tspan><tspan x="351" dy="5.2">items (user can</tspan><tspan x="351" dy="5.2">repeat this action)</tspan></text></g>
<g id="n-b-r2"><rect class="b" x="395" y="903" width="38" height="39"/><text class="t" x="414" y="910.7">User gets new<tspan x="414" dy="5.2">Revolve options</tspan><tspan x="414" dy="5.2">with the same</tspan><tspan x="414" dy="5.2">Vivrelle item (user</tspan><tspan x="414" dy="5.2">can repeat this</tspan><tspan x="414" dy="5.2">action)</tspan></text></g>
<g id="n-b-r3"><rect class="b" x="458" y="903" width="38" height="39"/><text class="t" x="477" y="915.9">User gets 3<tspan x="477" dy="5.2">original Revolve + 1</tspan><tspan x="477" dy="5.2">new Revolve</tspan><tspan x="477" dy="5.2">option</tspan></text></g>
<g id="n-b-r4"><rect class="b" x="521" y="903" width="38" height="39"/><text class="t" x="540" y="915.9">User gets 1 original<tspan x="540" dy="5.2">Vivrelle + 3 new</tspan><tspan x="540" dy="5.2">Vivrelle option</tspan><tspan x="540" dy="5.2">(wishlist only)</tspan></text></g>
<g id="n-b-s1"><rect class="b" x="332" y="962" width="38" height="38"/><text class="t" x="351" y="979.6">User selects<tspan x="351" dy="5.2">Revolve Items</tspan></text></g>
<g id="n-b-s2"><rect class="b" x="395" y="962" width="38" height="38"/><text class="t" x="414" y="979.6">User selects<tspan x="414" dy="5.2">Revolve Items</tspan></text></g>
<g id="n-b-rev"><rect class="b" x="458" y="988" width="38" height="39"/><text class="t" x="477" y="1006.1">User selects<tspan x="477" dy="5.2">Revolve Items</tspan></text></g>
<g id="n-b-see1"><polygon class="p" points="533,981.5 561,1008 533,1034.5 505,1008"/><text class="t" x="533" y="1006.6">See other<tspan x="533" dy="5.2">options</tspan></text></g>
<g id="n-b-4rev"><rect class="b" x="514" y="1056" width="38" height="38"/><text class="t" x="533" y="1068.4">User gets 4 new<tspan x="533" dy="5.2">Revolve options</tspan><tspan x="533" dy="5.2">(user can repeat</tspan><tspan x="533" dy="5.2">this action)</tspan></text></g>
<g id="n-b-see2"><polygon class="p" points="600,981.5 628,1008 600,1034.5 572,1008"/><text class="t" x="600" y="1006.6">See other<tspan x="600" dy="5.2">options</tspan></text></g>
<g id="n-b-4viv"><rect class="b" x="581" y="1056" width="38" height="38"/><text class="t" x="600" y="1063.2">User gets 4 new<tspan x="600" dy="5.2">Vivrelle options</tspan><tspan x="600" dy="5.2">(user can repeat</tspan><tspan x="600" dy="5.2">this action) User</tspan><tspan x="600" dy="5.2">can only wishlist</tspan><tspan x="600" dy="5.2">items</tspan></text></g>
<g id="n-b-love"><polygon class="p" points="414,1076 442,1102.5 414,1129 386,1102.5"/><text class="t" x="414" y="1095.9">I love it! Learn<tspan x="414" dy="5.2">more and</tspan><tspan x="414" dy="5.2">checkout with</tspan><tspan x="414" dy="5.2">selected items!</tspan></text></g>
<g id="n-b-co"><rect class="b" x="395" y="1150" width="38" height="38"/><text class="t" x="414" y="1162.4">User is taken to<tspan x="414" dy="5.2">checkout page</tspan><tspan x="414" dy="5.2">with selected</tspan><tspan x="414" dy="5.2">items</tspan></text></g>

<g id="n-c0"><rect class="b" x="848" y="852" width="39" height="37"/><text class="t" x="867.5" y="869.1">1 Vivrelle (in their<tspan x="867.5" dy="5.2">tier) + 3 Revolve</tspan></text></g>
<g id="n-c-sel"><rect class="b" x="727" y="920" width="39" height="38"/><text class="t" x="746.5" y="940.2">User selects Item/s</text></g>
<g id="n-c-d1"><polygon class="p" points="805,920.5 833,947 805,973.5 777,947"/><text class="t" x="805" y="943">See other [bag,<tspan x="805" dy="5.2">necklace, etc.]</tspan><tspan x="805" dy="5.2">options</tspan></text></g>
<g id="n-c-d2"><polygon class="p" points="867.5,920.5 895.5,947 867.5,973.5 839.5,947"/><text class="t" x="867.5" y="945.6">See other outfit<tspan x="867.5" dy="5.2">options</tspan></text></g>
<g id="n-c-d3"><polygon class="p" points="930,920.5 958,947 930,973.5 902,947"/><text class="t" x="930" y="945.6">Skip the [bag,<tspan x="930" dy="5.2">necklace, etc.]</tspan></text></g>
<g id="n-c-d4"><polygon class="p" points="993,920.5 1021,947 993,973.5 965,947"/><text class="t" x="993" y="948.2">Skip the outfit</text></g>
<g id="n-c-r1"><rect class="b" x="785" y="994" width="39" height="39"/><text class="t" x="804.5" y="1004.3">User gets a new<tspan x="804.5" dy="5.2">Vivrelle option with</tspan><tspan x="804.5" dy="5.2">the same Revolve</tspan><tspan x="804.5" dy="5.2">items (user can</tspan><tspan x="804.5" dy="5.2">repeat this action)</tspan></text></g>
<g id="n-c-r2"><rect class="b" x="848" y="994" width="39" height="39"/><text class="t" x="867.5" y="1001.7">User gets new<tspan x="867.5" dy="5.2">Revolve options</tspan><tspan x="867.5" dy="5.2">with the same</tspan><tspan x="867.5" dy="5.2">Vivrelle item (user</tspan><tspan x="867.5" dy="5.2">can repeat this</tspan><tspan x="867.5" dy="5.2">action)</tspan></text></g>
<g id="n-c-r3"><rect class="b" x="911" y="994" width="39" height="39"/><text class="t" x="930.5" y="1006.9">User gets 3<tspan x="930.5" dy="5.2">original Revolve + 1</tspan><tspan x="930.5" dy="5.2">new Revolve</tspan><tspan x="930.5" dy="5.2">option</tspan></text></g>
<g id="n-c-r4"><rect class="b" x="974" y="994" width="39" height="39"/><text class="t" x="993.5" y="1009.5">User gets 1 original<tspan x="993.5" dy="5.2">Vivrelle + 3 new</tspan><tspan x="993.5" dy="5.2">Vivrelle option</tspan></text></g>
<g id="n-c-s1"><rect class="b" x="785" y="1053" width="39" height="38"/><text class="t" x="804.5" y="1073.2">User selects Item/s</text></g>
<g id="n-c-s2"><rect class="b" x="848" y="1053" width="39" height="38"/><text class="t" x="867.5" y="1073.2">User selects Item/s</text></g>
<g id="n-c-rev"><rect class="b" x="911" y="1080" width="39" height="38"/><text class="t" x="930.5" y="1097.6">User selects<tspan x="930.5" dy="5.2">Revolve Items</tspan></text></g>
<g id="n-c-see1"><polygon class="p" points="987,1073 1015,1099.5 987,1126 959,1099.5"/><text class="t" x="987" y="1098.1">See other<tspan x="987" dy="5.2">options</tspan></text></g>
<g id="n-c-4rev"><rect class="b" x="968" y="1147" width="38" height="38"/><text class="t" x="987" y="1159.4">User gets 4 new<tspan x="987" dy="5.2">Revolve options</tspan><tspan x="987" dy="5.2">(user can repeat</tspan><tspan x="987" dy="5.2">this action)</tspan></text></g>
<g id="n-c-viv"><rect class="b" x="1036" y="1080" width="39" height="38"/><text class="t" x="1055.5" y="1097.6">User selects<tspan x="1055.5" dy="5.2">Vivrelle Item/s</tspan></text></g>
<g id="n-c-see2"><polygon class="p" points="1112,1073 1140,1099.5 1112,1126 1084,1099.5"/><text class="t" x="1112" y="1098.1">See other<tspan x="1112" dy="5.2">options</tspan></text></g>
<g id="n-c-4viv"><rect class="b" x="1092" y="1147" width="39" height="38"/><text class="t" x="1111.5" y="1159.4">User gets 4 new<tspan x="1111.5" dy="5.2">Vivrelle options</tspan><tspan x="1111.5" dy="5.2">(user can repeat</tspan><tspan x="1111.5" dy="5.2">this action)</tspan></text></g>
<g id="n-c-love"><polygon class="p" points="867.5,1167 895.5,1193 867.5,1219 839.5,1193"/><text class="t" x="867.5" y="1186.4">I love it! Learn<tspan x="867.5" dy="5.2">more and</tspan><tspan x="867.5" dy="5.2">checkout with</tspan><tspan x="867.5" dy="5.2">selected items!</tspan></text></g>
<g id="n-c-co"><rect class="b" x="848" y="1242" width="39" height="38"/><text class="t" x="867.5" y="1254.4">User is taken to<tspan x="867.5" dy="5.2">checkout page</tspan><tspan x="867.5" dy="5.2">with selected</tspan><tspan x="867.5" dy="5.2">items</tspan></text></g>

<g id="n-d0"><rect class="b" x="1555" y="761" width="38" height="39"/><text class="t" x="1574" y="779.1">1 Vivrelle (in cart)<tspan x="1574" dy="5.2">+ 3 Revolve</tspan></text></g>
<g id="n-d-sel"><rect class="b" x="1433" y="831" width="39" height="38"/><text class="t" x="1452.5" y="851.2">User selects Items</text></g>
<g id="n-d-d1"><polygon class="p" points="1511,831 1538.5,857.5 1511,884 1483.5,857.5"/><text class="t" x="1511" y="853.5">See other [bag,<tspan x="1511" dy="5.2">necklace, etc.]</tspan><tspan x="1511" dy="5.2">options</tspan></text></g>
<g id="n-d-d2"><polygon class="p" points="1574,831 1601.5,857.5 1574,884 1546.5,857.5"/><text class="t" x="1574" y="856.1">See other outfit<tspan x="1574" dy="5.2">options</tspan></text></g>
<g id="n-d-d3"><polygon class="p" points="1637,831 1664.5,857.5 1637,884 1609.5,857.5"/><text class="t" x="1637" y="856.1">Skip the [bag,<tspan x="1637" dy="5.2">necklace, etc.]</tspan></text></g>
<g id="n-d-d4"><polygon class="p" points="1700,831 1727.5,857.5 1700,884 1672.5,857.5"/><text class="t" x="1700" y="858.7">Skip the outfit</text></g>
<g id="n-d-r1"><rect class="b" x="1491" y="904" width="39" height="39"/><text class="t" x="1510.5" y="914.3">User gets a new<tspan x="1510.5" dy="5.2">Vivrelle option with</tspan><tspan x="1510.5" dy="5.2">the same Revolve</tspan><tspan x="1510.5" dy="5.2">items (user can</tspan><tspan x="1510.5" dy="5.2">repeat this action)</tspan></text></g>
<g id="n-d-r2"><rect class="b" x="1555" y="904" width="38" height="39"/><text class="t" x="1574" y="911.7">User gets new<tspan x="1574" dy="5.2">Revolve options</tspan><tspan x="1574" dy="5.2">with the same</tspan><tspan x="1574" dy="5.2">Vivrelle item (user</tspan><tspan x="1574" dy="5.2">can repeat this</tspan><tspan x="1574" dy="5.2">action)</tspan></text></g>
<g id="n-d-r3"><rect class="b" x="1618" y="904" width="38" height="39"/><text class="t" x="1637" y="916.9">User gets 3<tspan x="1637" dy="5.2">original Revolve + 1</tspan><tspan x="1637" dy="5.2">new Revolve</tspan><tspan x="1637" dy="5.2">option</tspan></text></g>
<g id="n-d-r4"><rect class="b" x="1681" y="904" width="38" height="39"/><text class="t" x="1700" y="919.5">User gets 1 original<tspan x="1700" dy="5.2">Vivrelle + 3 new</tspan><tspan x="1700" dy="5.2">Vivrelle option</tspan></text></g>
<g id="n-d-s1"><rect class="b" x="1491" y="963" width="39" height="39"/><text class="t" x="1510.5" y="983.7">User selects Items</text></g>
<g id="n-d-s2"><rect class="b" x="1555" y="963" width="38" height="39"/><text class="t" x="1574" y="983.7">User selects Items</text></g>
<g id="n-d-rev"><rect class="b" x="1618" y="990" width="38" height="39"/><text class="t" x="1637" y="1008.1">User selects<tspan x="1637" dy="5.2">Revolve Items</tspan></text></g>
<g id="n-d-see1"><polygon class="p" points="1693,984 1721,1010.5 1693,1037 1665,1010.5"/><text class="t" x="1693" y="1009.1">See other<tspan x="1693" dy="5.2">options</tspan></text></g>
<g id="n-d-4rev"><rect class="b" x="1674" y="1057" width="39" height="38"/><text class="t" x="1693.5" y="1069.4">User gets 4 new<tspan x="1693.5" dy="5.2">Revolve options</tspan><tspan x="1693.5" dy="5.2">(user can repeat</tspan><tspan x="1693.5" dy="5.2">this action)</tspan></text></g>
<g id="n-d-see2"><polygon class="p" points="1818,984 1846,1010.5 1818,1037 1790,1010.5"/><text class="t" x="1818" y="1009.1">See other<tspan x="1818" dy="5.2">options</tspan></text></g>
<g id="n-d-4viv"><rect class="b" x="1799" y="1057" width="39" height="38"/><text class="t" x="1818.5" y="1069.4">User gets 4 new<tspan x="1818.5" dy="5.2">Vivrelle options</tspan><tspan x="1818.5" dy="5.2">(user can repeat</tspan><tspan x="1818.5" dy="5.2">this action)</tspan></text></g>
<g id="n-d-viv"><rect class="b" x="1736" y="1057" width="39" height="38"/><text class="t" x="1755.5" y="1074.6">User selects<tspan x="1755.5" dy="5.2">Vivrelle Item/s</tspan></text></g>
<g id="n-d-cur"><rect class="b" x="1736" y="1108" width="39" height="38"/><text class="t" x="1755.5" y="1123">User selects<tspan x="1755.5" dy="5.2">current item in</tspan><tspan x="1755.5" dy="5.2">cart?</tspan></text></g>
<g id="n-d-love1"><polygon class="p" points="1452,1077 1480,1103.5 1452,1130 1424,1103.5"/><text class="t" x="1452" y="1096.9">I love it! Learn<tspan x="1452" dy="5.2">more and</tspan><tspan x="1452" dy="5.2">checkout with</tspan><tspan x="1452" dy="5.2">selected items!</tspan></text></g>
<g id="n-d-love2"><polygon class="p" points="1574.5,1077 1602.5,1103.5 1574.5,1130 1546.5,1103.5"/><text class="t" x="1574.5" y="1096.9">I love it! Learn<tspan x="1574.5" dy="5.2">more and</tspan><tspan x="1574.5" dy="5.2">checkout with</tspan><tspan x="1574.5" dy="5.2">selected items!</tspan></text></g>
<g id="n-d-green"><polygon class="g" points="1574,1147.5 1611,1186 1574,1224.5 1537,1186"/><text class="t" x="1574" y="1174.2">Looks like you have<tspan x="1574" dy="5.2">something in your</tspan><tspan x="1574" dy="5.2">Vivrelle cart — would</tspan><tspan x="1574" dy="5.2">you like to clear your</tspan><tspan x="1574" dy="5.2">cart and add [brand]</tspan><tspan x="1574" dy="5.2">[name] instead?</tspan></text></g>
<g id="n-d-keep"><polygon class="p" points="1534.5,1247 1563,1274 1534.5,1301 1506,1274"/><text class="t" x="1534.5" y="1272.6">No, keep my<tspan x="1534.5" dy="5.2">item</tspan></text></g>
<g id="n-d-update"><polygon class="p" points="1614,1247 1642.5,1274 1614,1301 1585.5,1274"/><text class="t" x="1614" y="1275.2">Yes, update cart</text></g>
<g id="n-d-co1"><rect class="b" x="1515" y="1315" width="39" height="39"/><text class="t" x="1534.5" y="1322.7">User is taken to<tspan x="1534.5" dy="5.2">checkout page</tspan><tspan x="1534.5" dy="5.2">with selected</tspan><tspan x="1534.5" dy="5.2">items. Original</tspan><tspan x="1534.5" dy="5.2">Vivrelle cart item</tspan><tspan x="1534.5" dy="5.2">stays in checkout.</tspan></text></g>
<g id="n-d-co2"><rect class="b" x="1594" y="1315" width="39" height="39"/><text class="t" x="1613.5" y="1327.9">User is taken to<tspan x="1613.5" dy="5.2">checkout page</tspan><tspan x="1613.5" dy="5.2">with selected</tspan><tspan x="1613.5" dy="5.2">items.</tspan></text></g>
<g id="n-d-love3"><polygon class="p" points="1693,1159.5 1721,1186 1693,1212.5 1665,1186"/><text class="t" x="1693" y="1179.4">I love it! Learn<tspan x="1693" dy="5.2">more and</tspan><tspan x="1693" dy="5.2">checkout with</tspan><tspan x="1693" dy="5.2">selected items!</tspan></text></g>

<g id="n-e0"><rect class="b" x="2071" y="675" width="39" height="38"/><text class="t" x="2090.5" y="692.6">1 Vivrelle (in their<tspan x="2090.5" dy="5.2">tier) + 3 Revolve</tspan></text></g>
<g id="n-e-sel"><rect class="b" x="1950" y="742" width="39" height="38"/><text class="t" x="1969.5" y="762.2">User selects items</text></g>
<g id="n-e-d1"><polygon class="p" points="2027.5,742 2055,768.5 2027.5,795 2000,768.5"/><text class="t" x="2027.5" y="764.5">See other [bag,<tspan x="2027.5" dy="5.2">necklace, etc.]</tspan><tspan x="2027.5" dy="5.2">options</tspan></text></g>
<g id="n-e-d2"><polygon class="p" points="2090.5,742 2118,768.5 2090.5,795 2063,768.5"/><text class="t" x="2090.5" y="767.1">See other outfit<tspan x="2090.5" dy="5.2">options</tspan></text></g>
<g id="n-e-d3"><polygon class="p" points="2153.5,742 2181,768.5 2153.5,795 2126,768.5"/><text class="t" x="2153.5" y="767.1">Skip the [bag,<tspan x="2153.5" dy="5.2">necklace, etc.]</tspan></text></g>
<g id="n-e-d4"><polygon class="p" points="2216.5,742 2244,768.5 2216.5,795 2189,768.5"/><text class="t" x="2216.5" y="769.7">Skip the outfit</text></g>
<g id="n-e-r1"><rect class="b" x="2008" y="815" width="39" height="39"/><text class="t" x="2027.5" y="822.7">User gets a new<tspan x="2027.5" dy="5.2">Vivrelle option (in</tspan><tspan x="2027.5" dy="5.2">their tier) with the</tspan><tspan x="2027.5" dy="5.2">same Revolve</tspan><tspan x="2027.5" dy="5.2">items (user can</tspan><tspan x="2027.5" dy="5.2">repeat this action)</tspan></text></g>
<g id="n-e-r2"><rect class="b" x="2071" y="815" width="39" height="39"/><text class="t" x="2090.5" y="822.7">User gets new<tspan x="2090.5" dy="5.2">Revolve options</tspan><tspan x="2090.5" dy="5.2">with the same</tspan><tspan x="2090.5" dy="5.2">Vivrelle item (user</tspan><tspan x="2090.5" dy="5.2">can repeat this</tspan><tspan x="2090.5" dy="5.2">action)</tspan></text></g>
<g id="n-e-r3"><rect class="b" x="2134" y="815" width="39" height="39"/><text class="t" x="2153.5" y="827.9">User gets 3<tspan x="2153.5" dy="5.2">original Revolve + 1</tspan><tspan x="2153.5" dy="5.2">new Revolve</tspan><tspan x="2153.5" dy="5.2">option</tspan></text></g>
<g id="n-e-r4"><rect class="b" x="2197" y="815" width="39" height="39"/><text class="t" x="2216.5" y="827.9">User gets 1 original<tspan x="2216.5" dy="5.2">Vivrelle + 3 new</tspan><tspan x="2216.5" dy="5.2">Vivrelle option (in</tspan><tspan x="2216.5" dy="5.2">their tier)</tspan></text></g>
<g id="n-e-s1"><rect class="b" x="2008" y="874" width="39" height="39"/><text class="t" x="2027.5" y="894.7">User selects items</text></g>
<g id="n-e-s2"><rect class="b" x="2071" y="874" width="39" height="39"/><text class="t" x="2090.5" y="894.7">User selects items</text></g>
<g id="n-e-rev"><rect class="b" x="2134" y="901" width="39" height="39"/><text class="t" x="2153.5" y="919.1">User selects<tspan x="2153.5" dy="5.2">Revolve items</tspan></text></g>
<g id="n-e-see1"><polygon class="p" points="2209,894 2237,920.5 2209,947 2181,920.5"/><text class="t" x="2209" y="919.1">See other<tspan x="2209" dy="5.2">options</tspan></text></g>
<g id="n-e-4rev"><rect class="b" x="2190" y="968" width="39" height="38"/><text class="t" x="2209.5" y="980.4">User gets 4 new<tspan x="2209.5" dy="5.2">Revolve options</tspan><tspan x="2209.5" dy="5.2">(user can repeat</tspan><tspan x="2209.5" dy="5.2">this action)</tspan></text></g>
<g id="n-e-viv"><rect class="b" x="2262" y="901" width="39" height="39"/><text class="t" x="2281.5" y="919.1">User selects<tspan x="2281.5" dy="5.2">Vivrelle items</tspan></text></g>
<g id="n-e-see2"><polygon class="p" points="2335,894 2363,920.5 2335,947 2307,920.5"/><text class="t" x="2335" y="919.1">See other<tspan x="2335" dy="5.2">options</tspan></text></g>
<g id="n-e-4viv"><rect class="b" x="2316" y="968" width="39" height="38"/><text class="t" x="2335.5" y="980.4">User gets 4 new<tspan x="2335.5" dy="5.2">Vivrelle options</tspan><tspan x="2335.5" dy="5.2">(user can repeat</tspan><tspan x="2335.5" dy="5.2">this action)</tspan></text></g>
<g id="n-e-love2"><polygon class="p" points="2209,1028 2237,1054 2209,1080 2181,1054"/><text class="t" x="2209" y="1047.4">I love it! Learn<tspan x="2209" dy="5.2">more and</tspan><tspan x="2209" dy="5.2">checkout with</tspan><tspan x="2209" dy="5.2">selected items!</tspan></text></g>
<g id="n-e-love1"><polygon class="p" points="2090.5,988 2118,1014.5 2090.5,1041 2063,1014.5"/><text class="t" x="2090.5" y="1007.9">I love it! Learn<tspan x="2090.5" dy="5.2">more and</tspan><tspan x="2090.5" dy="5.2">checkout with</tspan><tspan x="2090.5" dy="5.2">selected items!</tspan></text></g>
<g id="n-e-green"><polygon class="g" points="2091,1056 2128,1094.5 2091,1133 2054,1094.5"/><text class="t" x="2091" y="1082.7">Looks like you have<tspan x="2091" dy="5.2">something in your</tspan><tspan x="2091" dy="5.2">Vivrelle cart — would</tspan><tspan x="2091" dy="5.2">you like to clear your</tspan><tspan x="2091" dy="5.2">cart and add [brand]</tspan><tspan x="2091" dy="5.2">[name] instead?</tspan></text></g>
<g id="n-e-update"><polygon class="p" points="2059.5,1157 2087,1182.5 2059.5,1208 2032,1182.5"/><text class="t" x="2059.5" y="1183.7">Yes, update cart</text></g>
<g id="n-e-keep"><polygon class="p" points="2121.5,1157 2149,1182.5 2121.5,1208 2094,1182.5"/><text class="t" x="2121.5" y="1181.1">No, keep my<tspan x="2121.5" dy="5.2">item</tspan></text></g>
<g id="n-e-co1"><rect class="b" x="2040" y="1223" width="39" height="38"/><text class="t" x="2059.5" y="1235.4">User is taken to<tspan x="2059.5" dy="5.2">checkout page</tspan><tspan x="2059.5" dy="5.2">with selected</tspan><tspan x="2059.5" dy="5.2">items</tspan></text></g>
<g id="n-e-co2"><rect class="b" x="2103" y="1223" width="39" height="40"/><text class="t" x="2122.5" y="1231.2">User is taken to<tspan x="2122.5" dy="5.2">checkout page</tspan><tspan x="2122.5" dy="5.2">with selected</tspan><tspan x="2122.5" dy="5.2">items. Original cart</tspan><tspan x="2122.5" dy="5.2">item stays in</tspan><tspan x="2122.5" dy="5.2">checkout</tspan></text></g>

<g id="n-checkout"><rect class="o" x="1272" y="1489" width="39" height="39" rx="1"/><text class="t" x="1291.5" y="1509.7">Checkout Page</text></g>
<g id="n-picks"><rect class="b" x="1272" y="1543" width="39" height="38"/><text class="t" x="1291.5" y="1555.4">User picks<tspan x="1291.5" dy="5.2">shipping type/</tspan><tspan x="1291.5" dy="5.2">sizes (if</tspan><tspan x="1291.5" dy="5.2">applicable)</tspan></text></g>
<g id="n-ship"><rect class="b" x="1218" y="1603" width="39" height="38"/><text class="t" x="1237.5" y="1620.6">User edits<tspan x="1237.5" dy="5.2">shipping</tspan></text></g>
<g id="n-bill"><rect class="b" x="1272" y="1603" width="39" height="38"/><text class="t" x="1291.5" y="1623.2">User edits billing</text></g>
<g id="n-remove"><rect class="b" x="1326" y="1603" width="39" height="38"/><text class="t" x="1345.5" y="1620.6">User removes<tspan x="1345.5" dy="5.2">item/s</tspan></text></g>
<g id="n-place"><polygon class="p" points="1291.5,1675 1319,1701 1291.5,1727 1264,1701"/><text class="t" x="1291.5" y="1702.2">Place Order</text></g>
<g id="n-does"><rect class="b" x="1272" y="1741" width="39" height="39"/><text class="t" x="1291.5" y="1759.1">Does user's order<tspan x="1291.5" dy="5.2">go through?</tspan></text></g>
<g id="n-error"><rect class="r" x="1356" y="1751" width="68" height="19"/><text class="t" x="1390" y="1761.7">User receives an error message</text></g>
<g id="n-confirm"><circle class="y" cx="1291.5" cy="1836.5" r="22.5"/><text class="t" x="1291.5" y="1827.3">User is taken to<tspan x="1291.5" dy="5.2">order confirmation</tspan><tspan x="1291.5" dy="5.2">page and receives</tspan><tspan x="1291.5" dy="5.2">a confirmation</tspan><tspan x="1291.5" dy="5.2">email</tspan></text></g>
<g id="n-back"><polygon class="p" points="1269,1882 1288.5,1901 1269,1920 1249.5,1901"/><text class="t" x="1269" y="1899.6">Back to<tspan x="1269" dy="5.2">Vivrelle</tspan></text></g>
<g id="n-explore"><polygon class="p" points="1314,1882 1333.5,1901 1314,1920 1294.5,1901"/><text class="t" x="1314" y="1899.6">Explore<tspan x="1314" dy="5.2">REVOLVE</tspan></text></g>
</svg>
